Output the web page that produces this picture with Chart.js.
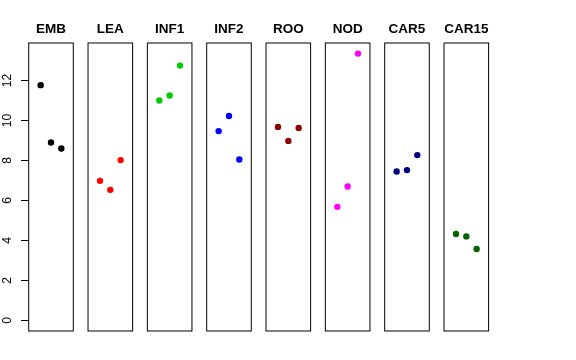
<!DOCTYPE html>
<html>
<head>
<meta charset="utf-8">
<script src="https://cdn.jsdelivr.net/npm/chart.js@4"></script>
<style>
  html, body { margin: 0; padding: 0; background: #fff; }
  #wrap { position: relative; width: 576px; height: 360px; overflow: hidden; }
  #wrap canvas { position: absolute; top: 0; }
</style>
</head>
<body>
<div id="wrap"></div>
<script>
const GROUPS = ["EMB", "LEA", "INF1", "INF2", "ROO", "NOD", "CAR5", "CAR15"];
const COLORS = ["#000000", "#FF0000", "#00CD00", "#0000FF", "#8B0000", "#FF00FF", "#000080", "#006400"];
const X_POS = [1, 2, 3];
const EMB = [11.77, 8.9, 8.6];
const LEA = [6.98, 6.53, 8.02];
const INF1 = [11.0, 11.25, 12.75];
const INF2 = [9.47, 10.23, 8.05];
const ROO = [9.68, 8.98, 9.63];
const NOD = [5.68, 6.7, 13.35];
const CAR5 = [7.45, 7.52, 8.27];
const CAR15 = [4.32, 4.2, 3.57];
const VALUES = [EMB, LEA, INF1, INF2, ROO, NOD, CAR5, CAR15];
const Y_TICKS = [0, 2, 4, 6, 8, 10, 12];

// panel layout (pixels)
const PANEL_X0 = 28.7;
const PANEL_STEP = 59.33;
const PANEL_W = 44.6;
const PANEL_BOTTOM = 331;
const H = 360;

const $wrap = document.getElementById("wrap");

// frame round each panel
const boxPlugin = {
  id: "box",
  afterDraw(chart) {
    const { ctx, chartArea: a } = chart;
    ctx.save();
    ctx.strokeStyle = "#000";
    ctx.lineWidth = 1;
    ctx.strokeRect(a.left, a.top, a.right - a.left, a.bottom - a.top);
    ctx.restore();
  },
};

GROUPS.forEach((name, i) => {
  const left = PANEL_X0 + i * PANEL_STEP;
  const first = i === 0;
  const cx = first ? 0 : Math.floor(left) - 3;
  const cw = Math.ceil(left + PANEL_W) + 3 - cx;

  const canvas = document.createElement("canvas");
  canvas.width = cw;
  canvas.height = H;
  canvas.style.left = cx + "px";
  canvas.style.width = cw + "px";
  canvas.style.height = H + "px";
  $wrap.appendChild(canvas);

  new Chart(canvas.getContext("2d"), {
    type: "scatter",
    data: {
      datasets: [
        {
          data: X_POS.map((x, j) => ({ x: x, y: VALUES[i][j] })),
          backgroundColor: COLORS[i],
          borderColor: COLORS[i],
          borderWidth: 0,
          pointRadius: 3.2,
        },
      ],
    },
    options: {
      responsive: false,
      animation: false,
      devicePixelRatio: 1,
      events: [],
      layout: {
        autoPadding: false,
        padding: {
          left: first ? 0 : left - cx,
          right: cx + cw - (left + PANEL_W),
          top: 0,
          bottom: H - PANEL_BOTTOM,
        },
      },
      plugins: {
        legend: { display: false },
        tooltip: { enabled: false },
        title: {
          display: true,
          text: name,
          fullSize: false,
          color: "#000",
          font: { family: "'Liberation Sans', Arial, sans-serif", size: 13.5, weight: "bold", lineHeight: 1 },
          padding: { top: 22.5, bottom: 7 },
        },
      },
      scales: {
        x: {
          type: "linear",
          display: false,
          min: -0.16,
          max: 4.16,
        },
        y: {
          display: first,
          min: -0.534,
          max: 13.88,
          afterBuildTicks: (s) => {
            s.ticks = Y_TICKS.map((v) => ({ value: v }));
          },
          afterFit: (s) => {
            s.width = first ? left - cx : 0;
          },
          grid: {
            drawOnChartArea: false,
            drawTicks: true,
            tickLength: 7.7,
            color: "#000",
          },
          border: { display: false },
          ticks: {
            minRotation: 90,
            maxRotation: 90,
            crossAlign: "center",
            padding: 6.6,
            color: "#000",
            font: { family: "'Liberation Sans', Arial, sans-serif", size: 12 },
          },
        },
      },
    },
    plugins: [boxPlugin],
  });
});
</script>
</body>
</html>
